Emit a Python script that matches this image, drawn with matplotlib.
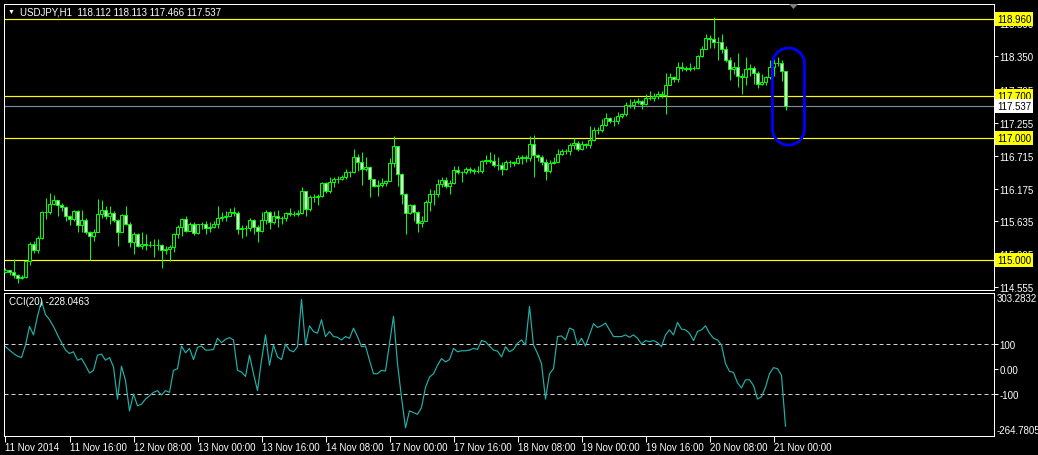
import matplotlib
matplotlib.use("Agg")
import matplotlib.pyplot as plt
import matplotlib.transforms as mtransforms
from matplotlib.patches import Polygon
import numpy as np

# ---------------- data ----------------
title = "USDJPY,H1  118.112 118.113 117.466 117.537"
cci_title = "CCI(20) -228.0463"

first_open = 114.81
closes = [
    114.84, 114.81, 114.75, 114.71, 114.73, 114.98, 115.27, 115.16, 115.37, 115.79,
    115.79, 115.92, 115.98, 115.91, 115.88, 115.73, 115.68, 115.80, 115.58, 115.66,
    115.47, 115.39, 115.47, 115.76, 115.82, 115.72, 115.78, 115.66, 115.47, 115.74,
    115.59, 115.30, 115.43, 115.24, 115.26, 115.25, 115.25, 115.25, 115.25, 115.17,
    115.19, 115.21, 115.43, 115.55, 115.68, 115.48, 115.59, 115.44, 115.59, 115.59,
    115.53, 115.55, 115.60, 115.70, 115.71, 115.73, 115.79, 115.77, 115.51, 115.52,
    115.52, 115.66, 115.54, 115.48, 115.66, 115.79, 115.62, 115.73, 115.70, 115.69,
    115.77, 115.76, 115.76, 115.78, 116.13, 115.84, 116.03, 116.04, 116.05, 116.26,
    116.13, 116.28, 116.34, 116.34, 116.37, 116.44, 116.44, 116.69, 116.62, 116.49,
    116.53, 116.33, 116.21, 116.23, 116.27, 116.30, 116.59, 116.87, 116.42, 116.08,
    115.77, 115.91, 115.79, 115.61, 115.65, 115.95, 116.09, 116.09, 116.25, 116.32,
    116.22, 116.26, 116.48, 116.44, 116.44, 116.50, 116.48, 116.46, 116.47, 116.63,
    116.65, 116.63, 116.57, 116.56, 116.50, 116.61, 116.61, 116.59, 116.68, 116.69,
    116.68, 116.91, 116.73, 116.69, 116.62, 116.46, 116.59, 116.62, 116.75, 116.80,
    116.80, 116.89, 116.92, 116.83, 116.91, 116.89, 116.97, 117.13, 117.14, 117.22,
    117.33, 117.29, 117.28, 117.37, 117.40, 117.54, 117.54, 117.60, 117.61, 117.56,
    117.66, 117.67, 117.70, 117.73, 117.72, 117.88, 118.00, 117.98, 118.17, 118.15,
    118.14, 118.16, 118.16, 118.35, 118.47, 118.65, 118.63, 118.59, 118.59, 118.47,
    118.28, 118.14, 118.17, 118.03, 118.00, 118.14, 118.16, 118.08, 117.89, 117.92,
    118.00, 118.18, 118.24, 118.24, 118.112, 117.537,
]
highs = [
    114.87, 114.84, 115.02, 114.77, 114.76, 114.99, 115.29, 115.32, 115.40, 115.81,
    116.02, 116.10, 116.07, 115.99, 115.94, 115.89, 115.74, 115.83, 115.83, 115.83,
    115.70, 115.48, 115.51, 116.00, 115.99, 115.89, 115.89, 115.81, 115.68, 115.76,
    115.89, 115.62, 115.46, 115.45, 115.46, 115.43, 115.32, 115.35, 115.34, 115.27,
    115.24, 115.25, 115.45, 115.57, 115.70, 115.73, 115.62, 115.62, 115.60, 115.62,
    115.64, 115.62, 115.65, 115.89, 115.79, 115.80, 115.85, 115.87, 115.81, 115.57,
    115.57, 115.69, 115.67, 115.57, 115.79, 115.82, 115.80, 115.80, 115.82, 115.73,
    115.79, 115.86, 115.80, 115.82, 116.20, 116.14, 116.07, 116.09, 116.09, 116.28,
    116.28, 116.37, 116.36, 116.39, 116.40, 116.50, 116.47, 116.83, 116.74, 116.77,
    116.69, 116.54, 116.33, 116.31, 116.35, 116.32, 116.67, 117.04, 116.88, 116.43,
    116.10, 115.92, 115.92, 115.80, 115.73, 115.99, 116.17, 116.15, 116.33, 116.37,
    116.36, 116.31, 116.54, 116.54, 116.47, 116.53, 116.53, 116.51, 116.54, 116.65,
    116.72, 116.77, 116.75, 116.69, 116.61, 116.65, 116.65, 116.63, 116.72, 116.72,
    116.72, 117.04, 117.06, 116.75, 116.72, 116.66, 116.65, 116.69, 116.83, 116.83,
    116.83, 116.93, 117.01, 116.96, 116.96, 116.93, 117.21, 117.18, 117.18, 117.32,
    117.41, 117.35, 117.35, 117.44, 117.42, 117.59, 117.65, 117.65, 117.66, 117.63,
    117.73, 117.77, 117.74, 117.77, 117.78, 118.07, 118.07, 118.03, 118.25, 118.26,
    118.19, 118.23, 118.19, 118.37, 118.52, 118.71, 118.70, 118.99, 118.66, 118.71,
    118.51, 118.33, 118.25, 118.41, 118.07, 118.33, 118.22, 118.19, 118.11, 118.06,
    118.03, 118.28, 118.30, 118.33, 118.28, 118.113,
]
lows = [
    114.79, 114.75, 114.70, 114.62, 114.69, 114.71, 114.92, 115.12, 115.12, 115.35,
    115.68, 115.76, 115.91, 115.72, 115.81, 115.65, 115.57, 115.65, 115.46, 115.46,
    115.43, 115.00, 115.32, 115.46, 115.69, 115.67, 115.59, 115.62, 115.24, 115.46,
    115.57, 115.21, 115.10, 115.21, 115.18, 115.16, 115.21, 115.05, 115.16, 114.87,
    115.10, 114.99, 115.13, 115.37, 115.40, 115.46, 115.51, 115.41, 115.43, 115.51,
    115.43, 115.46, 115.52, 115.52, 115.65, 115.65, 115.72, 115.73, 115.43, 115.37,
    115.40, 115.48, 115.43, 115.29, 115.46, 115.59, 115.51, 115.59, 115.55, 115.59,
    115.65, 115.72, 115.73, 115.72, 115.75, 115.72, 115.81, 115.95, 115.91, 116.03,
    116.11, 116.11, 116.20, 116.26, 116.31, 116.33, 116.36, 116.43, 116.47, 116.24,
    116.47, 116.04, 116.20, 116.06, 116.20, 116.22, 116.33, 116.53, 116.22, 115.92,
    115.43, 115.76, 115.65, 115.46, 115.54, 115.64, 115.81, 115.90, 116.04, 116.20,
    116.19, 116.08, 116.25, 116.42, 116.28, 116.42, 116.43, 116.42, 116.43, 116.43,
    116.58, 116.59, 116.53, 116.48, 116.40, 116.48, 116.53, 116.55, 116.58, 116.58,
    116.61, 116.63, 116.37, 116.63, 116.57, 116.32, 116.43, 116.58, 116.61, 116.72,
    116.75, 116.72, 116.83, 116.80, 116.81, 116.85, 116.85, 116.95, 117.08, 117.10,
    117.21, 117.25, 117.21, 117.24, 117.33, 117.37, 117.50, 117.48, 117.56, 117.49,
    117.54, 117.63, 117.61, 117.65, 117.67, 117.40, 117.87, 117.93, 117.93, 118.10,
    118.10, 118.11, 118.12, 118.14, 118.33, 118.46, 118.49, 118.49, 118.28, 118.40,
    118.25, 117.96, 118.06, 117.84, 117.73, 117.88, 118.03, 117.89, 117.83, 117.87,
    117.87, 117.98, 118.03, 118.19, 117.95, 117.466,
]
# FX hourly candles open at the previous close
opens = [first_open] + closes[:-1]

cci = [
    87.9, 74.5, 61.1, 50.3, 45.0, 94.6, 168.5, 134.9, 208.7, 269.1,
    215.4, 195.3, 168.5, 134.9, 104.0, 74.5, 61.1, 67.8, 34.2, 40.9,
    14.1, -16.8, -6.0, 54.4, 58.4, 34.2, 45.0, 7.4, -120.1, 10.1,
    -46.3, -167.1, -100.0, -146.9, -140.2, -120.1, -106.7, -93.3, -86.6, -104.0,
    -86.6, -93.3, -6.0, 0.7, 90.6, 63.7, 81.2, 36.9, 85.2, 90.6,
    74.5, 74.5, 77.2, 121.5, 104.0, 117.4, 124.1, 114.7, -6.0, -12.7,
    -30.2, 54.4, -19.5, -86.6, 34.2, 134.9, 14.1, 94.6, 47.6, 36.9,
    98.6, 74.5, 67.8, 87.9, 275.8, 94.6, 171.1, 148.3, 141.6, 195.3,
    128.2, 148.3, 128.2, 125.5, 114.7, 128.2, 121.5, 161.7, 128.2, 87.9,
    90.6, 34.2, -19.5, -19.5, -6.0, -8.7, 101.3, 208.7, 20.8, -113.4,
    -234.2, -167.1, -173.8, -180.5, -153.7, -73.1, -32.9, -19.5, 14.1, 40.9,
    27.5, 36.9, 81.2, 67.8, 71.8, 71.8, 74.5, 81.2, 77.2, 112.1,
    108.0, 90.6, 74.5, 70.5, 47.6, 87.9, 67.8, 77.2, 101.3, 114.7,
    94.6, 248.2, 94.6, 61.1, 20.8, -120.1, -19.5, 0.7, 128.2, 130.8,
    114.7, 161.7, 155.0, 94.6, 121.5, 90.6, 134.9, 179.2, 164.4, 171.1,
    181.8, 155.0, 128.2, 128.2, 128.2, 134.9, 125.5, 134.9, 121.5, 98.6,
    112.1, 108.0, 112.1, 104.0, 87.9, 134.9, 155.0, 134.9, 184.5, 157.7,
    155.0, 141.6, 112.1, 148.3, 155.0, 171.1, 141.6, 121.5, 114.7, 94.6,
    20.8, -10.1, -14.1, -55.7, -75.8, -43.6, -43.6, -66.4, -120.1, -110.7,
    -73.1, -19.5, 4.7, 0.7, -26.2, -228.05,
]

price_ticks = [118.890, 118.350, 117.795, 117.255, 116.715, 116.175, 115.635, 115.095, 114.555]
level_lines = [118.960, 117.700, 117.000, 115.000]
bid_price = 117.537
cci_levels = [100, -100]
cci_ticks = [100, 0, -100]
cci_tick_labels = ["100", "0.00", "-100"]
cci_max, cci_min = 303.2832, -264.7805
date_labels = ["11 Nov 2014", "11 Nov 16:00", "12 Nov 08:00", "13 Nov 00:00",
               "13 Nov 16:00", "14 Nov 08:00", "17 Nov 00:00", "17 Nov 16:00",
               "18 Nov 08:00", "19 Nov 00:00", "19 Nov 16:00", "20 Nov 08:00",
               "21 Nov 00:00"]
bars_per_label = 16
highlight_center = (195.75, 117.687)   # bar index, price of the drawn blue oval

# ---------------- style / layout ----------------
FONT = ["Liberation Sans", "DejaVu Sans"]
plt.rcParams["font.family"] = FONT
W, H = 1038, 456
PX = 0.72  # one pixel in points at dpi 100
LIME = "#00ff00"

fig = plt.figure(figsize=(W / 100, H / 100), dpi=100, facecolor="black")


def frac(x0, y0, x1, y1):
    return [x0 / W, 1 - y1 / H, (x1 - x0) / W, (y1 - y0) / H]


ax = fig.add_axes(frac(4.5, 4.5, 993.5, 290.5), facecolor="black")
ax2 = fig.add_axes(frac(4.5, 293.5, 993.5, 436.5), facecolor="black")

n = len(closes)
x = np.arange(n)
o = np.array(opens)
c = np.array(closes)
h = np.array(highs)
l = np.array(lows)

for a in (ax, ax2):
    a.set_xlim(-0.25, 247)
    for s in a.spines.values():
        s.set_color("white")
        s.set_linewidth(PX)

ax.set_ylim(114.518, 119.215)

# level lines
for lv in level_lines:
    ax.axhline(lv, color="#ffff00", lw=PX * 1.2, zorder=1)
ax.axhline(bid_price, color="#7a8794", lw=PX * 1.2, zorder=1)

# candles
ax.vlines(x, l, h, color=LIME, lw=PX, zorder=2)
bull = c >= o
bottoms = np.minimum(o, c)
heights = np.abs(c - o)
face = np.where(bull, "black", "white")
ax.bar(x, heights, bottom=bottoms, width=0.68, color=list(face),
       edgecolor=LIME, linewidth=PX, zorder=3)

# price axis
ax.set_xticks([])
ax.yaxis.tick_right()
ax.set_yticks(price_ticks)
ax.set_yticklabels([f"{p:.3f}" for p in price_ticks])
ax.tick_params(axis="y", colors="white", length=3, width=PX, pad=1.5, labelsize=7)

blend = mtransforms.blended_transform_factory(ax.transAxes, ax.transData)
off = 3.5 / 989
for lv in level_lines:
    ax.text(1 + off, lv, f"{lv:.3f}", transform=blend, ha="left", va="center",
            fontsize=7, color="black", clip_on=False, zorder=6,
            bbox=dict(boxstyle="square,pad=0.2", fc="#ffff00", ec="none"))
ax.text(1 + off, bid_price, f"{bid_price:.3f}", transform=blend, ha="left", va="center",
        fontsize=7, color="black", clip_on=False, zorder=6,
        bbox=dict(boxstyle="square,pad=0.2", fc="white", ec="none"))

# CCI panel
ax2.set_ylim(cci_min, cci_max)
for lv in cci_levels:
    ax2.axhline(lv, color="#d0d0d0", lw=PX, ls=(0, (4, 3)), zorder=1)
ax2.plot(x, cci, color="#20b2aa", lw=0.85, zorder=2)
ax2.yaxis.tick_right()
ax2.set_yticks(cci_ticks)
ax2.set_yticklabels(cci_tick_labels)
ax2.tick_params(axis="y", colors="white", length=3, width=PX, pad=1.5, labelsize=7)
blend2 = mtransforms.blended_transform_factory(ax2.transAxes, ax2.transAxes)
ax2.text(1 + off, 1.0, f"{cci_max:.4f}", transform=blend2, ha="left", va="top",
         fontsize=7, color="white", clip_on=False)
ax2.text(1 + off, 0.0, f"{cci_min:.4f}", transform=blend2, ha="left", va="bottom",
         fontsize=7, color="white", clip_on=False)

ax2.set_xticks([i * bars_per_label for i in range(len(date_labels))])
ax2.set_xticklabels(date_labels)
for t in ax2.get_xticklabels():
    t.set_ha("left")
ax2.tick_params(axis="x", colors="white", length=4, width=PX, pad=1, labelsize=7)

# texts
fig.text(20 / W, 1 - 12.5 / H, title, color="white", fontsize=7, ha="left", va="center")
fig.text(8 / W, 1 - 12.5 / H, "\u25bc", color="white", fontsize=5, ha="left", va="center",
         family=FONT)
fig.text(9 / W, 1 - 302.5 / H, cci_title, color="white", fontsize=7, ha="left", va="center")

# chart shift marker
tri = Polygon([[789 / W, 1 - 5 / H], [798 / W, 1 - 5 / H], [793.5 / W, 1 - 10 / H]],
              closed=True, transform=fig.transFigure, fc="#808080", ec="none")
fig.patches.append(tri)

# blue highlight oval (stadium), drawn in pixel units
cpx = ax.transData.transform(highlight_center)
r, hh = 16, 48.5
t1 = np.linspace(0, np.pi, 50)
t2 = np.linspace(np.pi, 2 * np.pi, 50)
top = np.column_stack([cpx[0] + r * np.cos(t1), cpx[1] + (hh - r) + r * np.sin(t1)])
bot = np.column_stack([cpx[0] + r * np.cos(t2), cpx[1] - (hh - r) + r * np.sin(t2)])
pts = ax.transData.inverted().transform(np.vstack([top, bot]))
ax.add_patch(Polygon(pts, closed=True, fill=False, ec="#0000ff", lw=2.0, zorder=7))

fig.savefig("out.png", dpi=100, facecolor="black")
